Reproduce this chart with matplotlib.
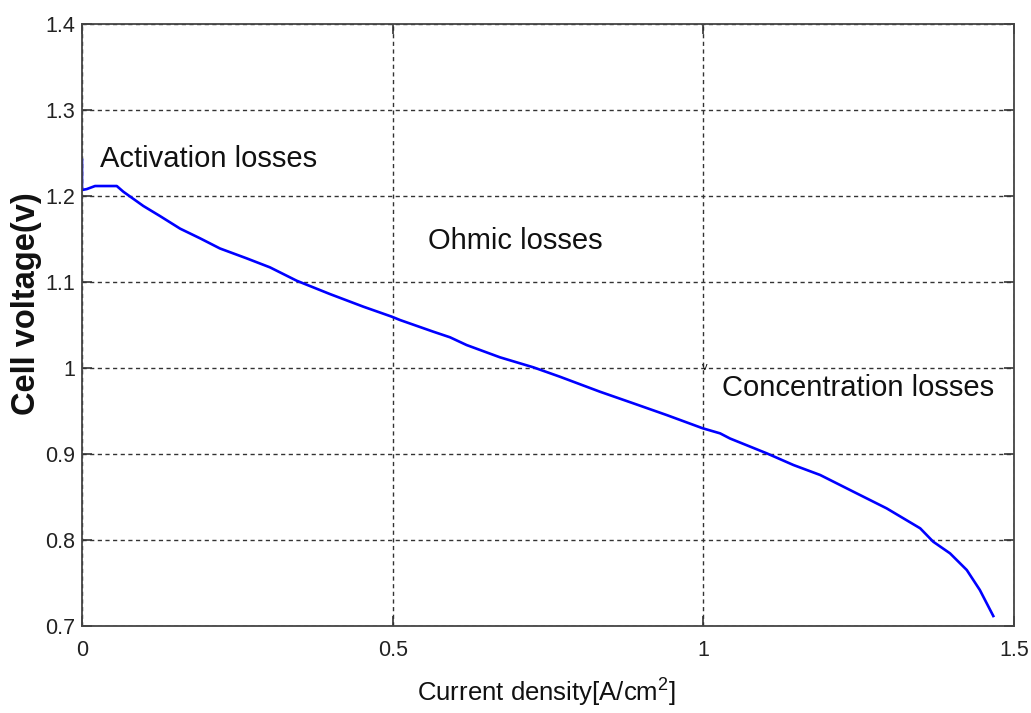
import matplotlib
matplotlib.use("Agg")
import matplotlib.pyplot as plt

# ---- data ----
current_density = [0.0, 0.0, 0.0075, 0.021, 0.056, 0.0665, 0.0987, 0.1255, 0.158, 0.19,
                   0.222, 0.265, 0.3026, 0.3455, 0.399, 0.4528, 0.4985, 0.5118, 0.5655,
                   0.5923, 0.619, 0.6728, 0.7264, 0.769, 0.8337, 0.887, 0.941, 0.999,
                   1.027, 1.043, 1.102, 1.145, 1.188, 1.2414, 1.295, 1.349, 1.370, 1.397,
                   1.424, 1.445, 1.4667]
cell_voltage = [1.242, 1.207, 1.208, 1.2116, 1.2116, 1.205, 1.1884, 1.1767, 1.162, 1.1508,
                1.139, 1.1275, 1.117, 1.1015, 1.086, 1.0713, 1.0597, 1.0558, 1.0422,
                1.0357, 1.0267, 1.0124, 1.0008, 0.9899, 0.9724, 0.959, 0.9453, 0.9299,
                0.924, 0.918, 0.9008, 0.8872, 0.8756, 0.8562, 0.8368, 0.8136, 0.798, 0.7845,
                0.7651, 0.7419, 0.7116]

x_ticks = [0, 0.5, 1, 1.5]
x_tick_labels = ["0", "0.5", "1", "1.5"]
y_ticks = [0.7, 0.8, 0.9, 1.0, 1.1, 1.2, 1.3, 1.4]
y_tick_labels = ["0.7", "0.8", "0.9", "1", "1.1", "1.2", "1.3", "1.4"]

annotations = [("Activation losses", 0.029, 1.2337),
               ("Ohmic losses", 0.557, 1.138),
               ("Concentration losses", 1.0296, 0.9678)]

x_label = "Current density[A/cm$^2$]"
y_label = "Cell voltage(v)"

font = "Liberation Sans"
plt.rcParams["mathtext.fontset"] = "custom"
plt.rcParams["mathtext.rm"] = font
plt.rcParams["mathtext.it"] = font

fig = plt.figure(figsize=(10.31, 7.13), dpi=100)
ax = fig.add_axes([82/1031, 1-626/713, (1014-82)/1031, (626-24)/713])

ax.plot(current_density, cell_voltage, color="#0000ff", lw=1.9, solid_joinstyle="round")

ax.set_xlim(0, 1.5)
ax.set_ylim(0.7, 1.4)
ax.set_xticks(x_ticks)
ax.set_xticklabels(x_tick_labels, family=font, fontsize=15.5, color="#222222")
ax.set_yticks(y_ticks)
ax.set_yticklabels(y_tick_labels, family=font, fontsize=15.5, color="#222222")
ax.tick_params(direction="in", length=7, width=1.2, color="#333333",
               top=True, right=True)
ax.tick_params(axis="y", pad=5)
ax.tick_params(axis="x", pad=10)
for s in ax.spines.values():
    s.set_color("#444444")
    s.set_linewidth(1.3)

ax.grid(True, color="#333333", linestyle=(0, (3, 2.5)), linewidth=1.0)
ax.set_axisbelow(True)

for txt, x, y in annotations:
    ax.text(x, y, txt, family=font, fontsize=21, color="#111111",
            ha="left", va="baseline")
ax.text(1.0027, 1.0012, "v", family=font, fontsize=8, color="#111111",
        ha="center", va="center")

fig.text(546/1031, 1-693/713, x_label, family=font, fontsize=18.5,
         color="#111111", ha="center", va="center")
fig.text(27/1031, 1-304/713, y_label, family=font, fontsize=23.5, weight="bold",
         color="#111111", ha="center", va="center", rotation=90)

fig.savefig("out.png", dpi=100)
